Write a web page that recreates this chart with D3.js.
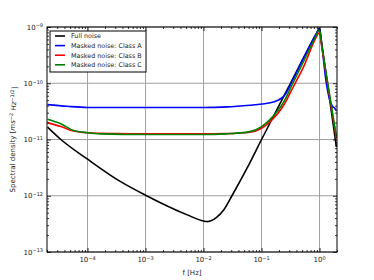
<!DOCTYPE html>
<html>
<head>
<meta charset="utf-8">
<script src="https://cdn.jsdelivr.net/npm/d3@7"></script>
<style>
  body { margin: 0; background: #fff; }
  text { font-family: "DejaVu Sans", sans-serif; fill: #222; }
</style>
</head>
<body>
<div id="chart"></div>
<script>
const width = 374, height = 280;
const margin = { top: 27, right: 37, bottom: 28, left: 47 };

// curves, as [log10 f, log10 density]
const fullNoise = [[-4.69, -10.78], [-4.46, -11.0], [-4.0, -11.35], [-3.43, -11.75], [-3.0, -11.99],
  [-2.28, -12.34], [-2.0, -12.45], [-1.93, -12.46], [-1.78, -12.39], [-1.65, -12.25], [-1.51, -12.0],
  [-1.25, -11.51], [-1.0, -11.0], [-0.5, -10.0], [-0.05, -9.11], [0, -9.02], [0.03, -9.24], [0.29, -11.13]];
const classA = [[-4.69, -10.38], [-4.35, -10.41], [-4.0, -10.43], [-3.0, -10.43], [-2.0, -10.43],
  [-1.6, -10.42], [-1.2, -10.39], [-1.0, -10.37], [-0.78, -10.33], [-0.6, -10.21], [-0.46, -9.94],
  [-0.25, -9.5], [-0.05, -9.11], [0, -9.03], [0.03, -9.24], [0.117, -10.0], [0.185, -10.33],
  [0.23, -10.42], [0.26, -10.44], [0.29, -10.49]];
const classB = [[-4.69, -10.7], [-4.46, -10.77], [-4.24, -10.85], [-4.0, -10.88], [-3.5, -10.895],
  [-3.0, -10.9], [-2.5, -10.9], [-2.0, -10.9], [-1.63, -10.895], [-1.2, -10.87],
  [-1.0, -10.8], [-0.86, -10.69], [-0.6, -10.36], [-0.46, -10.08], [-0.25, -9.65], [-0.09, -9.25],
  [0, -9.1], [0.03, -9.3], [0.29, -10.98]];
const classC = [[-4.69, -10.64], [-4.46, -10.72], [-4.24, -10.84], [-4.0, -10.88], [-3.78, -10.9],
  [-3.0, -10.91], [-2.0, -10.91], [-1.63, -10.9], [-1.2, -10.86], [-1.0, -10.77], [-0.86, -10.65],
  [-0.6, -10.3], [-0.46, -10.0], [-0.25, -9.56], [-0.08, -9.2], [0, -9.05], [0.03, -9.26], [0.29, -10.95]];

const seriesNames = ["Full noise", "Masked noise: Class A", "Masked noise: Class B", "Masked noise: Class C"];
const seriesColors = ["#000000", "#0000ff", "#ff0000", "#008000"];
const seriesData = [fullNoise, classA, classB, classC];

const xDecades = [-4, -3, -2, -1, 0];
const yDecades = [-13, -12, -11, -10, -9];

const svg = d3.select("#chart").append("svg")
  .attr("width", width)
  .attr("height", height);

const x = d3.scaleLog().domain([2e-5, 2]).range([margin.left, width - margin.right]);
const y = d3.scaleLog().domain([1e-13, 1e-9]).range([height - margin.bottom, margin.top]);

const x0 = margin.left, x1 = width - margin.right, y0 = margin.top, y1 = height - margin.bottom;

// grid
svg.append("g").selectAll("line")
  .data(xDecades.map(d => 10 ** d))
  .join("line")
  .attr("x1", d => x(d)).attr("x2", d => x(d))
  .attr("y1", y0).attr("y2", y1)
  .attr("stroke", "#a0a0a0").attr("stroke-width", 1);
svg.append("g").selectAll("line")
  .data(yDecades.map(d => 10 ** d))
  .join("line")
  .attr("x1", x0).attr("x2", x1)
  .attr("y1", d => y(d)).attr("y2", d => y(d))
  .attr("stroke", "#a0a0a0").attr("stroke-width", 1);

// curves
svg.append("clipPath").attr("id", "plot-clip")
  .append("rect").attr("x", x0).attr("y", y0).attr("width", x1 - x0).attr("height", y1 - y0);

const line = d3.line()
  .x(d => x(10 ** d[0]))
  .y(d => y(10 ** d[1]))
  .curve(d3.curveMonotoneX);

svg.append("g").attr("clip-path", "url(#plot-clip)")
  .selectAll("path")
  .data(seriesData)
  .join("path")
  .attr("d", line)
  .attr("fill", "none")
  .attr("stroke", (d, i) => seriesColors[i])
  .attr("stroke-width", 1.6);

// ticks (inward, all four sides)
const minor = (lo, hi) => {
  const out = [];
  for (let e = lo; e <= hi; e++) for (let m = 2; m <= 9; m++) out.push(m * 10 ** e);
  return out;
};
const xMinor = minor(-5, 0).filter(v => v >= 2e-5 && v <= 2);
const yMinor = minor(-13, -10);

function ticks(axisFn, scale, values, size, transform) {
  const g = svg.append("g")
    .attr("transform", transform)
    .call(axisFn(scale).tickValues(values).tickSize(size).tickFormat(""));
  g.select(".domain").remove();
  g.selectAll("line").attr("stroke", "#000").attr("stroke-width", 0.8);
}
const xMajorVals = xDecades.map(d => 10 ** d);
const yMajorVals = yDecades.map(d => 10 ** d);
ticks(d3.axisBottom, x, xMajorVals, -4, `translate(0,${y1})`);
ticks(d3.axisBottom, x, xMinor, -2, `translate(0,${y1})`);
ticks(d3.axisTop, x, xMajorVals, -4, `translate(0,${y0})`);
ticks(d3.axisTop, x, xMinor, -2, `translate(0,${y0})`);
ticks(d3.axisLeft, y, yMajorVals, -4, `translate(${x0},0)`);
ticks(d3.axisLeft, y, yMinor, -2, `translate(${x0},0)`);
ticks(d3.axisRight, y, yMajorVals, -4, `translate(${x1},0)`);
ticks(d3.axisRight, y, yMinor, -2, `translate(${x1},0)`);

// frame
svg.append("rect")
  .attr("x", x0).attr("y", y0).attr("width", x1 - x0).attr("height", y1 - y0)
  .attr("fill", "none").attr("stroke", "#000").attr("stroke-width", 1);

// tick labels with superscript exponents
function powLabel(sel, e) {
  sel.append("tspan").text("10");
  sel.append("tspan").attr("dy", "-0.45em").attr("font-size", "5px").text("\u2212" + Math.abs(e));
}
xDecades.forEach(e => {
  const t = svg.append("text")
    .attr("x", x(10 ** e)).attr("y", y1 + 10)
    .attr("text-anchor", "middle").attr("font-size", "7px");
  if (e === 0) {
    t.append("tspan").text("10");
    t.append("tspan").attr("dy", "-0.45em").attr("font-size", "5px").text("0");
  } else powLabel(t, e);
});
yDecades.forEach(e => {
  const t = svg.append("text")
    .attr("x", x0 - 4).attr("y", y(10 ** e) + 2.5)
    .attr("text-anchor", "end").attr("font-size", "7px");
  powLabel(t, e);
});

// axis titles
svg.append("text")
  .attr("x", (x0 + x1) / 2).attr("y", height - 5)
  .attr("text-anchor", "middle").attr("font-size", "7px")
  .text("f [Hz]");

const yl = svg.append("text")
  .attr("transform", `translate(15,${(y0 + y1) / 2}) rotate(-90)`)
  .attr("text-anchor", "middle").attr("font-size", "7px");
yl.append("tspan").text("Spectral density [");
yl.append("tspan").attr("font-style", "italic").text("ms");
yl.append("tspan").attr("dy", "-0.45em").attr("font-size", "5px").text("\u22122");
yl.append("tspan").attr("dy", "0.45em").text(" ");
yl.append("tspan").attr("font-style", "italic").text("Hz");
yl.append("tspan").attr("dy", "-0.45em").attr("font-size", "5px").text("\u22121/2");
yl.append("tspan").attr("dy", "0.45em").text("]");

// legend
const legend = svg.append("g");
legend.append("rect")
  .attr("x", 50).attr("y", 31).attr("width", 96).attr("height", 41)
  .attr("fill", "#fff").attr("stroke", "#000").attr("stroke-width", 1);
seriesNames.forEach((name, i) => {
  const ry = 36 + i * 9.6;
  legend.append("line")
    .attr("x1", 55).attr("x2", 65).attr("y1", ry).attr("y2", ry)
    .attr("stroke", seriesColors[i]).attr("stroke-width", 1.6);
  legend.append("text")
    .attr("x", 71).attr("y", ry + 2.3)
    .attr("font-size", "6.4px")
    .text(name);
});
</script>
</body>
</html>
